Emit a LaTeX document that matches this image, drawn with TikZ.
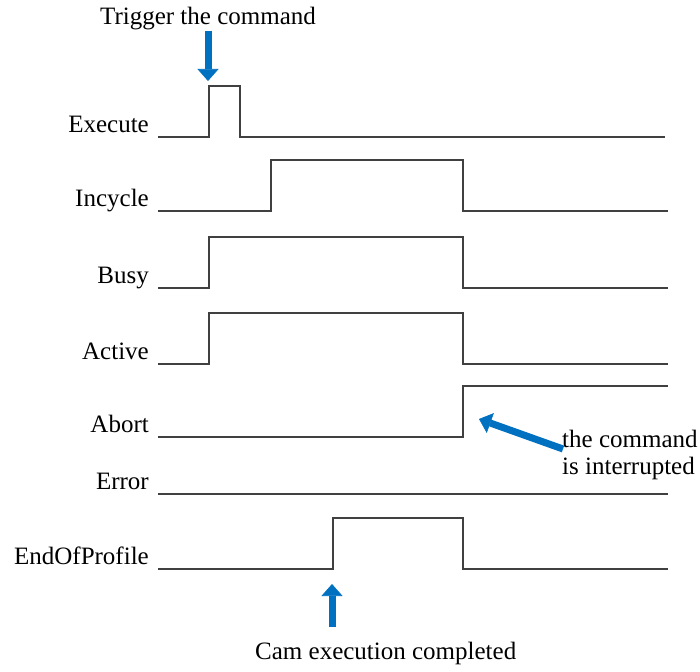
\documentclass[tikz,border=0pt]{standalone}
\usepackage{fontspec}
\setmainfont{Liberation Serif}
\newfontfamily\sigfont{Liberation Serif}
\usepackage{xcolor}
\usepackage{tikz}
\usetikzlibrary{arrows.meta}
\definecolor{wavegray}{RGB}{64,64,64}
\definecolor{markblue}{RGB}{0,112,192}

\begin{document}
\begin{tikzpicture}[x=1pt,y=-1pt,
    wave/.style={line width=2.6pt,wavegray,line join=miter},
    lbl/.style={font=\sigfont\fontsize{25}{27}\selectfont,inner sep=0pt},
    marker/.style={line width=7pt,markblue,-{Triangle[width=21pt,length=12pt,line width=0.6pt]}}]
    \useasboundingbox (0,0) rectangle (700,671);
        % signal names
        \foreach \name/\y in {Execute/137,Incycle/211,Busy/288,Active/364,Abort/437,Error/494,EndOfProfile/569}
            \node[lbl,anchor=base east] (\name) at (149,\y-5) {\name};
        % waveforms
        \draw[wave] (158,137)--(209,137)--(209,86)--(240,86)--(240,137)--(665,137);
        \draw[wave] (158,211)--(271,211)--(271,160)--(463,160)--(463,211)--(668,211);
        \draw[wave] (158,288)--(209,288)--(209,237)--(463,237)--(463,288)--(668,288);
        \draw[wave] (158,364)--(209,364)--(209,313)--(463,313)--(463,364)--(668,364);
        \draw[wave] (158,437)--(463,437)--(463,386)--(668,386);
        \draw[wave] (158,494)--(668,494);
        \draw[wave] (158,569)--(333,569)--(333,518)--(463,518)--(463,569)--(668,569);
        % notes
        \node[lbl,anchor=base] (trigger) at (208,25) {Trigger the command};
        \coordinate (trigtip) at (208,81);
        \draw[marker] (trigger.south -| trigtip)--(trigtip);
        \node[lbl,anchor=north west,align=left] (intr) at (562,430) {the command\\is interrupted};
        \coordinate (abtail) at (563,449);
        \coordinate (abtip) at (479,419);
        \draw[marker] (abtail)--(abtip);
        \node[lbl,anchor=base west] (camdone) at (255,659) {Cam execution completed};
        \coordinate (camtail) at (332,627);
        \coordinate (camtip) at (332,584);
        \draw[marker] (camtail)--(camtip);
    \end{tikzpicture}
\end{document}
